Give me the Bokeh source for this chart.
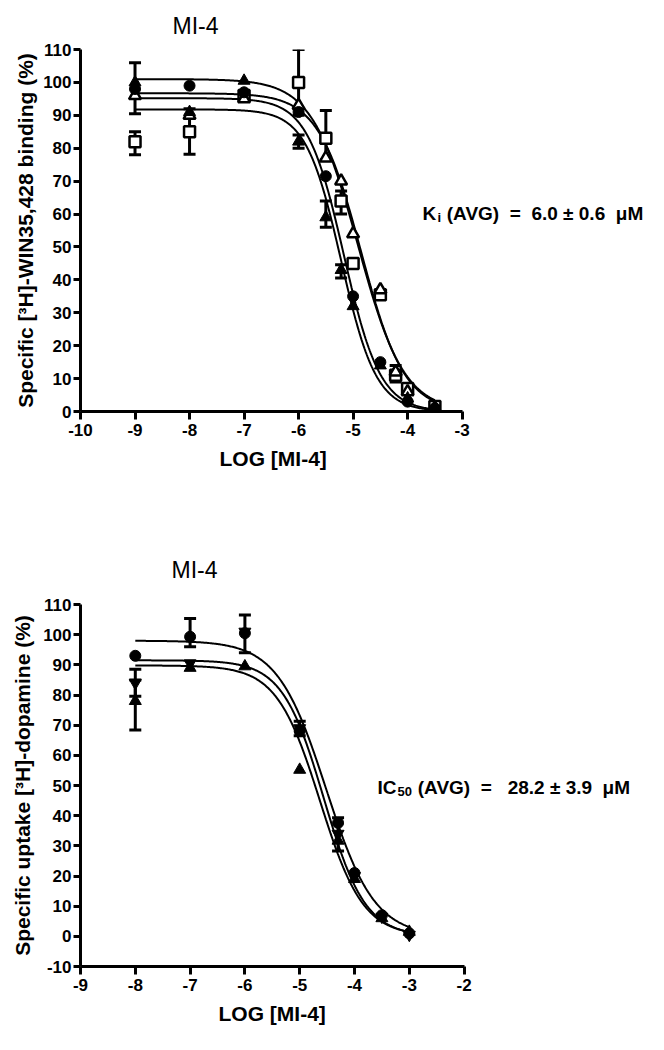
import numpy as np
from bokeh.plotting import figure
from bokeh.models import Range1d, Label, FixedTicker, PrintfTickFormatter, Title
from bokeh.layouts import column
from bokeh.embed import file_html
from bokeh.resources import INLINE

FONT = "Liberation Sans"
NB = "\u00a0"

# ---------------- top panel data (binding) ----------------
top_title = "MI-4"
top_xlabel = "LOG [MI-4]"
top_ylabel = "Specific [\u00b3H]-WIN35,428 binding (%)"
top_xticks = [-10, -9, -8, -7, -6, -5, -4, -3]
top_yticks = [0, 10, 20, 30, 40, 50, 60, 70, 80, 90, 100, 110]

t_circ_x = [-9, -8, -7, -6, -5.5, -5, -4.5, -4, -3.5]
t_circ_y = [98, 99, 97, 91, 71.5, 35, 15, 3, 1]
t_tri_x = [-9, -8, -7, -6, -5.5, -5.22, -5, -4.5, -4, -3.5]
t_tri_y = [100, 91, 100.5, 82, 59, 43, 32, 14, 4, 0.5]
t_sq_x = [-9, -8, -7, -6, -5.5, -5.22, -5, -4.5, -4.22, -4, -3.5]
t_sq_y = [82, 85, 96, 100, 83, 64, 45, 35.5, 11, 7, 1.5]
t_otri_x = [-9, -8, -7, -6, -5.5, -5.22, -5, -4.5, -4.22, -4, -3.5]
t_otri_y = [96, 90, 95, 93, 77, 70, 54, 37, 12, 6, 1]

t_err_x = [-9, -9, -8, -6, -6, -5.5, -5.5, -5.22, -5.22, -4.22]
t_err_lo = [90.5, 78, 78.2, 90, 80, 76.4, 56, 40.6, 60, 9]
t_err_hi = [106, 85, 92, 110, 84, 91.5, 64, 44.6, 67, 14]

# fitted sigmoid parameters
t_fit_top = [101, 96.7, 95.2, 91.8]
t_fit_bottom = [0, 0, 0, 0]
t_fit_logic50 = [-4.91, -4.85, -5.17, -5.22]
t_fit_hill = [1.03, 1.1, 1.3, 1.35]
t_fit_range = [-9, -3.5]

# ---------------- bottom panel data (uptake) ----------------
bot_title = "MI-4"
bot_xlabel = "LOG [MI-4]"
bot_ylabel = "Specific uptake [\u00b3H]-dopamine (%)"
bot_xticks = [-9, -8, -7, -6, -5, -4, -3, -2]
bot_yticks = [-10, 0, 10, 20, 30, 40, 50, 60, 70, 80, 90, 100, 110]

b_x = [-8, -7, -6, -5, -4.3, -4, -3.5, -3]
b_circ_y = [93, 99.3, 100.5, 68, 37.6, 21, 7, 1]
b_itri_y = [84, 90.5, 101, 69, 34, 20, 6.5, 0.5]
b_tri_y = [78, 89, 89.5, 55.2, 31.7, 19, 6, 1.5]

b_err_x = [-8, -8, -7, -6, -5, -4.3]
b_err_lo = [79.6, 68.4, 96, 94, 66.5, 28.3]
b_err_hi = [88.5, 85, 105.4, 106.5, 71.3, 39.3]

b_fit_top = [98, 91.5, 89.8]
b_fit_bottom = [0, 0, 0]
b_fit_logic50 = [-4.52, -4.56, -4.63]
b_fit_hill = [0.98, 1.15, 1.1]
b_fit_range = [-8, -3]


def sigmoid(xs, top, bottom, c, h):
    return bottom + (top - bottom) / (1 + 10 ** ((xs - c) * h))


def style(p, xticks, yticks, xlabel, xlabel_offset, ylabel, ystand):
    p.outline_line_color = None
    p.xgrid.visible = False
    p.ygrid.visible = False
    for ax in (p.xaxis[0], p.yaxis[0]):
        ax.axis_line_width = 3
        ax.major_tick_line_width = 3
        ax.major_tick_in = 0
        ax.minor_tick_line_color = None
        ax.major_label_text_font = FONT
        ax.major_label_text_font_style = "bold"
        ax.major_label_text_font_size = "17px"
        ax.major_label_text_color = "black"
        ax.axis_label_text_font = FONT
        ax.axis_label_text_font_style = "bold"
        ax.axis_label_text_color = "black"
        ax.formatter = PrintfTickFormatter(format="%d")
    p.xaxis.ticker = FixedTicker(ticks=xticks)
    p.yaxis.ticker = FixedTicker(ticks=yticks)
    p.xaxis.bounds = (xticks[0], xticks[-1])
    p.xaxis.major_tick_out = 8
    p.yaxis.major_tick_out = 7
    p.xaxis.major_label_standoff = 4
    p.yaxis.major_label_standoff = 2
    p.yaxis.axis_label = ylabel
    p.yaxis.axis_label_text_font_size = "21px"
    p.yaxis.axis_label_standoff = ystand
    p.add_layout(Title(text=xlabel, align="left", offset=xlabel_offset,
                       text_font=FONT, text_font_size="21px", text_font_style="bold",
                       text_color="black", standoff=13), "below")


def errbars(p, xs, lo, hi):
    p.segment(x0=xs, y0=lo, x1=xs, y1=hi, line_color="black", line_width=3)
    p.scatter(x=xs, y=lo, marker="dash", size=12, line_color="black", line_width=3)
    p.scatter(x=xs, y=hi, marker="dash", size=12, line_color="black", line_width=3)


def label(p, x, y, text, size, bold=True, align="left", baseline="alphabetic"):
    p.add_layout(Label(x=x, y=y, x_units="screen", y_units="screen", text=text,
                       text_font=FONT, text_font_size=size,
                       text_font_style="bold" if bold else "normal",
                       text_align=align, text_baseline=baseline, text_color="black"))


def set_title(p, text, offset, standoff):
    p.title = Title(text=text, align="left", offset=offset, text_font=FONT,
                    text_font_size="23px", text_font_style="normal", text_color="black",
                    standoff=standoff)


# ---------------- top figure ----------------
# the frame runs on to the right of the x axis so the annotation fits inside it
p1 = figure(width=648, height=532, output_backend="svg", toolbar_location=None,
            x_range=Range1d(-10, -10 + 573 / 55.0), y_range=Range1d(0, 110),
            min_border_left=75, min_border_right=0, min_border_top=48, min_border_bottom=121)
set_title(p1, top_title, 92, 21)
style(p1, top_xticks, top_yticks, top_xlabel, 139, top_ylabel, 3)

xs = np.linspace(t_fit_range[0], t_fit_range[1], 300)
for T, B, C, H in zip(t_fit_top, t_fit_bottom, t_fit_logic50, t_fit_hill):
    p1.line(xs, sigmoid(xs, T, B, C, H), line_color="black", line_width=2)

errbars(p1, t_err_x, t_err_lo, t_err_hi)
p1.scatter(t_sq_x, t_sq_y, marker="square", size=11, fill_color="white", line_color="black", line_width=2.5)
p1.scatter(t_otri_x, t_otri_y, marker="triangle", size=12, fill_color="white", line_color="black", line_width=2.5)
p1.scatter(t_tri_x, t_tri_y, marker="triangle", size=12, fill_color="black", line_color="black")
p1.scatter(t_circ_x, t_circ_y, marker="circle", size=11, fill_color="black", line_color="black")

label(p1, 342, 198, "K", "19px")
label(p1, 357, 194, "i", "13px")
label(p1, 361, 198, NB + "(AVG)" + NB * 2 + "=" + NB * 2 + "6.0" + NB + "\u00b1" + NB + "0.6" + NB * 2 + "\u03bcM", "19px")

# ---------------- bottom figure ----------------
p2 = figure(width=648, height=502, output_backend="svg", toolbar_location=None,
            x_range=Range1d(-9, -9 + 568 / 54.8), y_range=Range1d(-10, 110),
            min_border_left=80, min_border_right=0, min_border_top=71, min_border_bottom=68)
set_title(p2, bot_title, 91, 44)
style(p2, bot_xticks, bot_yticks, bot_xlabel, 138, bot_ylabel, 6)

xs2 = np.linspace(b_fit_range[0], b_fit_range[1], 300)
for T, B, C, H in zip(b_fit_top, b_fit_bottom, b_fit_logic50, b_fit_hill):
    p2.line(xs2, sigmoid(xs2, T, B, C, H), line_color="black", line_width=2)

errbars(p2, b_err_x, b_err_lo, b_err_hi)
p2.scatter(b_x, b_tri_y, marker="triangle", size=12, fill_color="black", line_color="black")
p2.scatter(b_x, b_itri_y, marker="inverted_triangle", size=12, fill_color="black", line_color="black")
p2.scatter(b_x, b_circ_y, marker="circle", size=11, fill_color="black", line_color="black")

label(p2, 297, 179, "IC", "19px")
label(p2, 317, 175, "50", "13px")
label(p2, 332, 179, NB + "(AVG)" + NB * 2 + "=" + NB * 3 + "28.2" + NB + "\u00b1" + NB + "3.9" + NB * 2 + "\u03bcM", "19px")

layout = column(p1, p2, spacing=0)
open("out.html", "w").write(file_html(layout, INLINE))
